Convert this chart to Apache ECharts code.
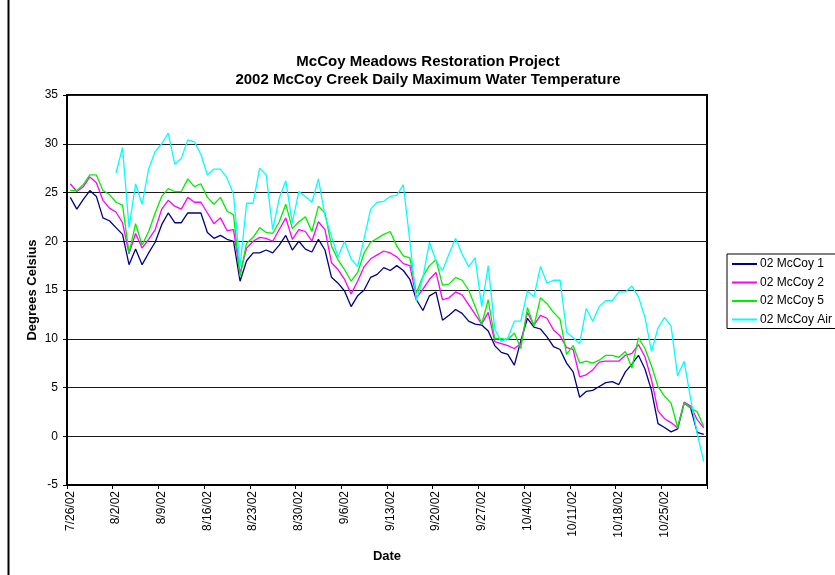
<!DOCTYPE html>
<html>
<head>
<meta charset="utf-8">
<script src="https://cdn.jsdelivr.net/npm/echarts@6/dist/echarts.min.js"></script>
<style>
  html, body { margin: 0; padding: 0; background: #fff; }
  #chart { width: 835px; height: 575px; }
</style>
</head>
<body>
<div id="chart"></div>
<script>
// dates 7/26/02 - 10/31/02
const dates = [
  '7/26/02', '7/27/02', '7/28/02', '7/29/02', '7/30/02', '7/31/02',
  '8/1/02', '8/2/02', '8/3/02', '8/4/02', '8/5/02', '8/6/02', '8/7/02', '8/8/02', '8/9/02', '8/10/02',
  '8/11/02', '8/12/02', '8/13/02', '8/14/02', '8/15/02', '8/16/02', '8/17/02', '8/18/02', '8/19/02', '8/20/02',
  '8/21/02', '8/22/02', '8/23/02', '8/24/02', '8/25/02', '8/26/02', '8/27/02', '8/28/02', '8/29/02', '8/30/02', '8/31/02',
  '9/1/02', '9/2/02', '9/3/02', '9/4/02', '9/5/02', '9/6/02', '9/7/02', '9/8/02', '9/9/02', '9/10/02',
  '9/11/02', '9/12/02', '9/13/02', '9/14/02', '9/15/02', '9/16/02', '9/17/02', '9/18/02', '9/19/02', '9/20/02',
  '9/21/02', '9/22/02', '9/23/02', '9/24/02', '9/25/02', '9/26/02', '9/27/02', '9/28/02', '9/29/02', '9/30/02',
  '10/1/02', '10/2/02', '10/3/02', '10/4/02', '10/5/02', '10/6/02', '10/7/02', '10/8/02', '10/9/02', '10/10/02',
  '10/11/02', '10/12/02', '10/13/02', '10/14/02', '10/15/02', '10/16/02', '10/17/02', '10/18/02', '10/19/02', '10/20/02',
  '10/21/02', '10/22/02', '10/23/02', '10/24/02', '10/25/02', '10/26/02', '10/27/02', '10/28/02', '10/29/02', '10/30/02', '10/31/02'
]

const mccoy1 = [
  24.5, 23.3, 24.3, 25.2, 24.6, 22.4, 22.1, 21.4, 20.7, 17.6, 19.2, 17.6, 18.8, 19.9, 21.7, 22.9,
  21.9, 21.9, 22.9, 22.9, 22.9, 20.9, 20.3, 20.6, 20.2, 20.0, 15.9, 18.0, 18.8, 18.8, 19.1,
  18.8, 19.6, 20.6, 19.1, 20.0, 19.2, 18.9, 20.2, 19.1, 16.3, 15.7, 14.9, 13.3, 14.4, 15.0,
  16.3, 16.6, 17.3, 17.0, 17.5, 17.0, 16.1, 14.0, 12.9, 14.4, 14.8, 11.9, 12.4, 13.0, 12.6,
  11.8, 11.5, 11.4, 10.8, 9.3, 8.6, 8.4, 7.3, 9.8, 12.1, 11.2, 11.0, 10.2, 9.2, 8.9,
  7.5, 6.6, 4.0, 4.6, 4.7, 5.1, 5.5, 5.6, 5.3, 6.6, 7.4, 8.3, 6.9, 4.7, 1.3,
  0.9, 0.45, 0.75, 3.4, 2.9, 0.4, 0.2
]

const mccoy2 = [
  25.9, 25.1, 25.6, 26.6, 26.0, 24.2, 23.4, 23.0, 21.9, 18.7, 20.8, 19.3, 20.2, 21.2, 23.3, 24.2,
  23.6, 23.3, 24.5, 24.0, 24.0, 22.9, 21.8, 22.4, 21.1, 21.2, 16.7, 19.3, 20.0, 20.4, 20.3,
  20.0, 21.2, 22.4, 20.2, 21.2, 21.0, 20.0, 22.0, 21.2, 17.8, 17.1, 16.1, 14.6, 15.9, 17.4,
  18.2, 18.6, 19.0, 18.8, 18.4, 17.7, 17.5, 14.2, 15.1, 16.1, 16.8, 14.0, 14.2, 14.8, 14.5,
  13.5, 12.5, 11.5, 12.7, 9.7, 9.5, 9.3, 9.0, 9.5, 12.7, 11.4, 12.4, 12.1, 10.9, 10.3,
  9.1, 8.9, 6.1, 6.3, 6.8, 7.6, 7.7, 7.7, 7.7, 8.3, 8.5, 9.4, 8.15, 5.8, 2.6,
  1.8, 1.4, 0.85, 3.5, 3.1, 1.7, 0.85
]

const mccoy5 = [
  25.2, 25.2, 25.8, 26.8, 26.8, 25.2, 24.8, 24.0, 23.7, 18.8, 21.8, 19.6, 21.0, 22.9, 24.6, 25.4,
  25.1, 25.1, 26.4, 25.6, 25.9, 24.5, 23.8, 24.5, 23.1, 22.7, 16.4, 19.8, 20.4, 21.4, 20.9,
  20.8, 22.0, 23.8, 21.3, 22.0, 22.5, 21.0, 23.6, 22.9, 19.5, 18.1, 17.1, 15.9, 16.8, 18.8,
  19.9, 20.3, 20.7, 21.0, 19.5, 18.5, 18.3, 14.7, 16.4, 17.5, 18.1, 15.5, 15.6, 16.3, 16.0,
  15.0, 13.3, 11.5, 14.0, 10.0, 10.0, 9.9, 10.6, 9.0, 13.2, 11.3, 14.2, 13.6, 12.7, 12.0,
  8.4, 9.3, 7.5, 7.7, 7.5, 7.8, 8.3, 8.3, 8.1, 8.7, 7.0, 10.1, 9.0, 7.2, 5.1,
  4.1, 3.4, 0.9, 3.4, 2.9, 2.5, 1.0
]

const mccoyAir = [
  null, null, null, null, null, null, null, 27.0, 29.6, 21.4, 25.9, 23.8, 27.4, 29.2, 30.0, 31.1,
  27.9, 28.5, 30.4, 30.2, 28.9, 26.8, 27.4, 27.4, 26.5, 24.8, 17.4, 23.9, 23.9, 27.5, 26.8,
  21.2, 24.4, 26.2, 21.9, 25.1, 24.6, 24.0, 26.4, 22.6, 20.5, 18.4, 20.0, 18.2, 17.4, 20.3,
  23.3, 24.0, 24.1, 24.6, 24.7, 25.8, 20.0, 13.9, 16.3, 19.9, 18.0, 17.0, 18.7, 20.3, 18.7,
  17.4, 18.3, 13.3, 17.5, 11.0, 9.7, 10.1, 11.8, 11.8, 14.9, 14.3, 17.4, 15.7, 16.0, 16.0,
  10.7, 10.1, 9.5, 13.1, 11.8, 13.3, 13.9, 13.9, 14.8, 14.8, 15.4, 14.3, 12.2, 8.7, 11.1,
  12.2, 11.3, 6.2, 7.7, 3.8, 0.3, -2.6
]

const seriesNames = ['02 McCoy 1', '02 McCoy 2', '02 McCoy 5', '02 McCoy Air']
const seriesColors = ['#000080', '#ff00ff', '#00ee00', '#00ffff']
const seriesData = [mccoy1, mccoy2, mccoy5, mccoyAir]

const FONT = '"Liberation Sans", Arial, sans-serif'

let myCharts = echarts.init(document.getElementById('chart'), null, { renderer: 'canvas' })

myCharts.setOption({
  animation: false,
  backgroundColor: '#fff',
  title: {
    text: 'McCoy Meadows Restoration Project\n2002 McCoy Creek Daily Maximum Water Temperature',
    left: 423,
    top: 48,
    textAlign: 'center',
    textStyle: {
      fontFamily: FONT,
      fontSize: 15,
      fontWeight: 'bold',
      color: '#000',
      lineHeight: 18,
    },
  },
  legend: {
    orient: 'vertical',
    left: 727,
    top: 254,
    padding: [4, 30, 3, 4],
    itemWidth: 25,
    itemHeight: 12,
    itemGap: 6.5,
    borderColor: '#000',
    borderWidth: 1,
    data: seriesNames,
    // hide the symbol in the legend icon, keep the line only
    itemStyle: { color: 'transparent', borderColor: 'transparent', borderWidth: 0 },
    lineStyle: { width: 2 },
    textStyle: {
      fontFamily: FONT,
      fontSize: 12,
      color: '#000',
      padding: [0, 0, 0, -2],
    },
  },
  grid: {
    left: 67,
    right: 128,
    top: 95,
    bottom: 90,
    show: true,
    borderColor: '#000',
    borderWidth: 2,
    containLabel: false,
  },
  xAxis: {
    type: 'category',
    data: dates,
    boundaryGap: true,
    name: 'Date',
    nameLocation: 'middle',
    nameGap: 65,
    nameTextStyle: {
      fontFamily: FONT,
      fontSize: 13,
      fontWeight: 'bold',
      color: '#000',
    },
    axisLine: {
      show: true,
      onZero: false,
      lineStyle: { color: '#000', width: 2 },
    },
    axisTick: {
      show: true,
      interval: 6,
      length: 4,
      lineStyle: { color: '#000' },
    },
    axisLabel: {
      interval: 6,
      rotate: 90,
      margin: 6,
      fontFamily: FONT,
      fontSize: 12,
      color: '#000',
    },
    splitLine: { show: false },
  },
  yAxis: {
    type: 'value',
    min: -5,
    max: 35,
    interval: 5,
    name: 'Degrees Celsius',
    nameLocation: 'middle',
    nameGap: 28,
    nameMoveOverlap: false,
    nameRotate: 90,
    nameTextStyle: {
      fontFamily: FONT,
      fontSize: 13,
      fontWeight: 'bold',
      color: '#000',
    },
    axisLine: {
      show: true,
      lineStyle: { color: '#000', width: 2 },
    },
    axisTick: {
      show: true,
      length: 4,
      lineStyle: { color: '#000' },
    },
    axisLabel: {
      margin: 9,
      fontFamily: FONT,
      fontSize: 12,
      color: '#000',
    },
    splitLine: {
      show: true,
      lineStyle: { color: '#1a1a1a', width: 1 },
    },
  },
  graphic: [
    {
      type: 'line',
      shape: { x1: 8.5, y1: 0, x2: 8.5, y2: 575 },
      style: { stroke: '#000', lineWidth: 2 },
    },
  ],
  series: seriesNames.map((name, i) => ({
    name: name,
    type: 'line',
    data: seriesData[i],
    symbol: 'none',
    connectNulls: false,
    lineStyle: { color: seriesColors[i], width: 1.3 },
    itemStyle: { color: seriesColors[i] },
  })),
})
</script>
</body>
</html>
